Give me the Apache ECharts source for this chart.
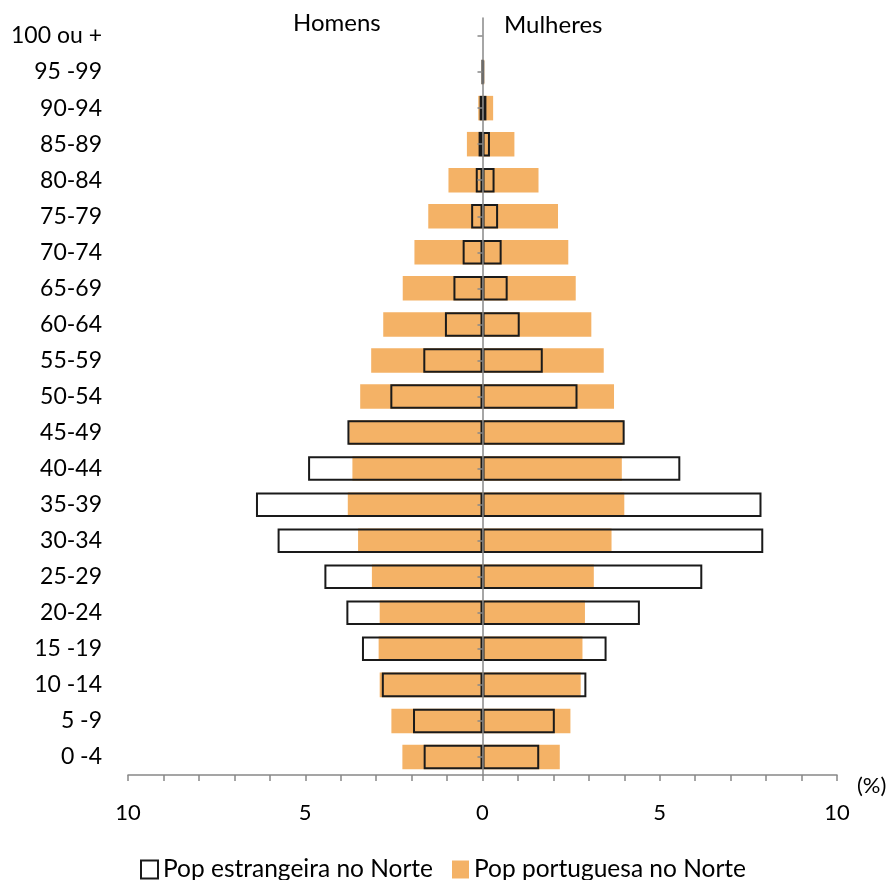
<!DOCTYPE html>
<html>
<head>
<meta charset="utf-8">
<script src="https://cdn.jsdelivr.net/npm/echarts@6/dist/echarts.min.js"></script>
<style>html,body{margin:0;padding:0;background:#fff}#c{width:896px;height:880px}</style>
</head>
<body>
<div id="c"></div>
<script>
var categories = ['0 -4','5 -9','10 -14','15 -19','20-24','25-29','30-34','35-39','40-44','45-49','50-54','55-59','60-64','65-69','70-74','75-79','80-84','85-89','90-94','95 -99','100 ou +'];
var menPortuguese   = [2.26,2.57,2.90,2.93,2.90,3.12,3.51,3.80,3.67,3.76,3.45,3.14,2.80,2.25,1.92,1.53,0.96,0.44,0.12,0.02,0];
var womenPortuguese = [2.18,2.48,2.77,2.82,2.89,3.14,3.64,4.00,3.93,3.98,3.71,3.42,3.07,2.63,2.42,2.13,1.58,0.90,0.30,0.05,0];
var menForeign      = [1.66,1.96,2.84,3.40,3.84,4.46,5.78,6.39,4.92,3.81,2.60,1.67,1.06,0.82,0.56,0.32,0.19,0.11,0.08,0.00,null];
var womenForeign    = [1.60,2.04,2.93,3.50,4.44,6.20,7.92,7.87,5.58,4.01,2.68,1.70,1.05,0.71,0.54,0.44,0.34,0.21,0.11,0.04,null];
var xTicks = [-10,-5,0,5,10];

var FONT = 'Lato';
var nameFr = 'Pop estrangeira no Norte';
var namePt = 'Pop portuguesa no Norte';
function neg(a){ return a.map(function(v){ return v == null ? null : -v; }); }

var ptStyle = { color: '#F4B266' };
var frStyle = { color: 'rgba(0,0,0,0)', borderColor: '#1a1a1a', borderWidth: 2 };

var chart = echarts.init(document.getElementById('c'), null, {renderer:'canvas'});
chart.setOption({
  animation: false,
  textStyle: { fontFamily: FONT },
  grid: { left: 128, right: 59, top: 18, bottom: 105 },
  legend: {
    top: 852, left: 135,
    data: [nameFr, namePt],
    itemWidth: 17, itemHeight: 18, itemGap: 19,
    icon: 'rect',
    textStyle: { fontFamily: FONT, fontSize: 24.5, color: '#000' }
  },
  xAxis: {
    type: 'value', min: -10, max: 10, interval: 1,
    axisLine: { show: true, onZero: false, lineStyle: { color: '#888', width: 1.5 } },
    axisTick: { show: true, length: 6, lineStyle: { color: '#888', width: 1.5 } },
    splitLine: { show: false },
    axisLabel: {
      margin: 27, fontSize: 22, color: '#000', fontFamily: FONT,
      formatter: function(v){ return xTicks.indexOf(v) >= 0 ? String(Math.abs(v)) : ''; }
    }
  },
  yAxis: [{
    type: 'category', data: categories, position: 'left',
    axisLine: { show: false }, axisTick: { show: false },
    axisLabel: { margin: 26, fontSize: 23, color: '#000', fontFamily: FONT }
  }, {
    type: 'category', data: categories, position: 'left', offset: -354.5, z: 10,
    axisLine: { show: true, lineStyle: { color: '#888', width: 1.5 } },
    axisTick: { show: true, alignWithLabel: true, length: 5, lineStyle: { color: '#888', width: 1.5 } },
    axisLabel: { show: false }
  }],
  graphic: [
    { type: 'text', left: 293, top: 11, style: { text: 'Homens', fontSize: 24, fontFamily: FONT, fill: '#000' } },
    { type: 'text', left: 504, top: 13, style: { text: 'Mulheres', fontSize: 24, fontFamily: FONT, fill: '#000' } },
    { type: 'text', left: 857, top: 775, style: { text: '(%)', fontSize: 22, fontFamily: FONT, fill: '#000' } }
  ],
  series: [
    { name: namePt, type: 'bar', stack: 'pt', data: neg(menPortuguese), itemStyle: ptStyle, barWidth: '68%', barGap: '-100%' },
    { name: namePt, type: 'bar', stack: 'pt', data: womenPortuguese, itemStyle: ptStyle, barWidth: '68%', barGap: '-100%' },
    { name: nameFr, type: 'bar', stack: 'fr', data: neg(menForeign), itemStyle: frStyle, barWidth: '68%', barGap: '-100%' },
    { name: nameFr, type: 'bar', stack: 'fr', data: womenForeign, itemStyle: frStyle, barWidth: '68%', barGap: '-100%' }
  ]
});
</script>
</body>
</html>
